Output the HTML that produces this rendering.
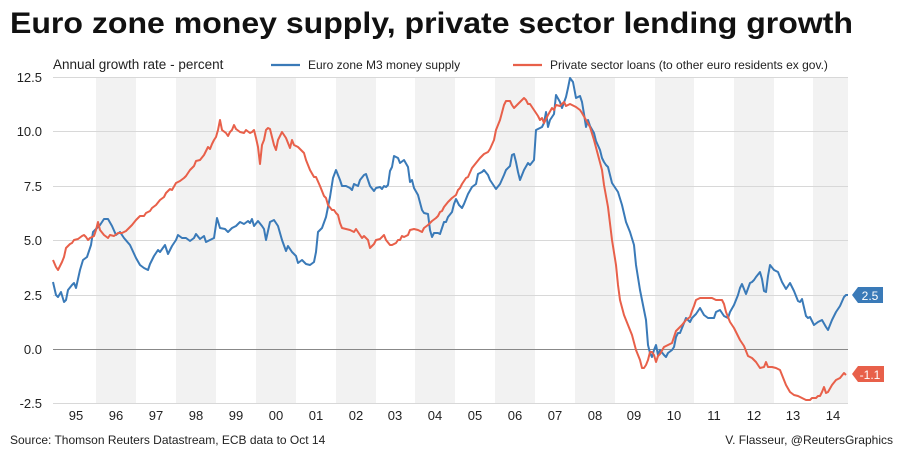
<!DOCTYPE html>
<html><head><meta charset="utf-8"><style>
body{margin:0;background:#fff}
svg{display:block;font-family:"Liberation Sans",Arial,sans-serif}
</style></head><body>
<svg width="900" height="450" viewBox="0 0 900 450">
<text x="10" y="33" font-size="30" font-weight="bold" fill="#111" textLength="843" lengthAdjust="spacingAndGlyphs">Euro zone money supply, private sector lending growth</text>
<g fill="#f2f2f2">
<rect x="96" y="77" width="40" height="326"/><rect x="176" y="77" width="40" height="326"/>
<rect x="256" y="77" width="40" height="326"/><rect x="336" y="77" width="40" height="326"/>
<rect x="415" y="77" width="40" height="326"/><rect x="495" y="77" width="40" height="326"/>
<rect x="575" y="77" width="40" height="326"/><rect x="655" y="77" width="39" height="326"/>
<rect x="734" y="77" width="40" height="326"/><rect x="813" y="77" width="35" height="326"/>
</g>
<g stroke="#d8d8d8" stroke-width="1">
<line x1="53" x2="848" y1="77.5" y2="77.5"/><line x1="53" x2="848" y1="131.5" y2="131.5"/>
<line x1="53" x2="848" y1="186.5" y2="186.5"/><line x1="53" x2="848" y1="240.5" y2="240.5"/>
<line x1="53" x2="848" y1="295.5" y2="295.5"/><line x1="53" x2="848" y1="403.5" y2="403.5"/>
</g>
<line x1="53" x2="848" y1="349.5" y2="349.5" stroke="#888"/>
<g font-size="13" fill="#222" text-anchor="end">
<text x="42" y="82">12.5</text><text x="42" y="136">10.0</text><text x="42" y="191">7.5</text>
<text x="42" y="245">5.0</text><text x="42" y="300">2.5</text><text x="42" y="354">0.0</text><text x="42" y="408">-2.5</text>
</g>
<g font-size="13" fill="#222" text-anchor="middle">
<text x="76" y="420">95</text><text x="116" y="420">96</text><text x="156" y="420">97</text><text x="196" y="420">98</text>
<text x="236" y="420">99</text><text x="276" y="420">00</text><text x="316" y="420">01</text><text x="356" y="420">02</text>
<text x="395" y="420">03</text><text x="435" y="420">04</text><text x="515" y="420" display="none"></text>
<text x="475" y="420">05</text><text x="515" y="420">06</text><text x="555" y="420">07</text><text x="595" y="420">08</text>
<text x="634" y="420">09</text><text x="674" y="420">10</text><text x="714" y="420">11</text><text x="754" y="420">12</text>
<text x="793" y="420">13</text><text x="833" y="420">14</text>
</g>
<text x="53" y="69" font-size="13.5" fill="#222">Annual growth rate - percent</text>
<line x1="271" x2="300" y1="65" y2="65" stroke="#3a7ab8" stroke-width="2.2"/>
<text x="308" y="69" font-size="12" fill="#222">Euro zone M3 money supply</text>
<line x1="513" x2="542" y1="65" y2="65" stroke="#e8604a" stroke-width="2.2"/>
<text x="550" y="69" font-size="12" fill="#222">Private sector loans (to other euro residents ex gov.)</text>
<polyline fill="none" stroke="#3a7ab8" stroke-width="2" stroke-linejoin="round" points="53,282 56,295 58,297 61,292 64,302 66,300 68,290 72,285 74,283 76,288 80,270 83,260 87,257 91,245 93,232 96,229 100,225 104,219 108,219 112,226 116,235 120,232 124,238 130,245 136,258 140,265 144,268 148,270 150,264 154,256 158,250 160,252 165,245 168,254 172,246 176,240 178,235 182,238 186,238 190,241 194,238 196,234 200,239 204,236 206,242 210,240 214,238 217,218 220,228 225,229 228,232 232,228 236,226 240,222 244,224 248,221 250,223 252,219 254,226 258,221 262,226 264,229 266,240 270,222 274,220 278,226 282,240 286,251 288,246 292,252 296,256 298,263 302,260 306,264 310,265 314,262 316,252 318,232 322,228 326,217 330,197 333,178 336,170 340,180 342,186 346,186 350,188 352,190 354,184 358,186 360,180 364,175 366,174 370,186 374,191 376,188 380,187 382,189 384,186 386,187 388,185 390,171 392,167 394,156 398,158 400,163 404,160 408,167 410,182 412,180 414,188 418,195 422,210 424,213 428,214 430,230 432,237 434,233 438,233 440,234 442,228 444,222 446,222 448,217 452,212 454,204 456,199 459,205 462,208 464,204 468,194 472,187 476,184 478,174 482,172 484,170 488,175 490,180 494,186 496,189 500,184 504,175 506,170 510,166 512,155 514,154 516,162 518,172 520,180 524,170 528,163 530,165 534,160 536,130 540,128 542,127 544,123 546,112 548,127 550,120 554,114 556,95 560,102 562,108 566,97 568,88 570,78 573,82 576,98 580,96 582,102 584,114 586,127 588,120 590,126 594,133 596,141 600,150 602,158 604,162 606,165 608,167 612,183 614,186 618,192 622,205 626,222 630,232 634,245 636,265 640,290 644,310 646,320 648,345 650,353 652,357 654,350 656,345 658,355 660,350 664,355 666,357 668,353 672,350 674,347 676,337 678,333 680,333 682,328 686,318 690,322 692,318 696,314 700,308 704,315 708,318 712,318 714,318 716,312 720,310 724,316 728,318 730,312 734,305 738,295 740,288 742,284 746,294 750,283 752,282 754,280 756,277 760,272 762,279 764,291 766,292 768,276 770,265 774,270 778,272 782,282 786,289 790,283 794,291 798,301 800,302 802,299 806,316 808,318 810,317 814,325 818,322 822,320 826,327 828,330 832,320 836,312 840,306 844,297 846,295 848,295"/>
<polyline fill="none" stroke="#e8604a" stroke-width="2" stroke-linejoin="round" points="53,260 56,267 58,270 62,262 64,257 66,248 70,244 72,243 74,240 78,239 82,236 84,235 86,237 88,240 90,238 94,236 96,230 98,222 100,230 104,235 108,238 110,235 114,236 118,233 122,233 126,231 128,229 132,225 136,220 140,216 144,216 146,213 150,211 152,208 156,205 160,200 164,197 166,193 170,189 172,190 176,183 180,181 184,178 186,176 190,170 194,166 196,161 200,160 204,155 208,147 210,149 212,144 214,140 216,137 218,130 220,120 222,130 226,133 228,136 230,132 232,130 234,125 236,129 240,132 244,133 246,130 250,133 252,132 254,130 256,138 258,147 260,164 262,145 264,140 266,130 268,128 270,129 274,145 276,150 278,140 282,132 286,138 290,148 292,140 294,145 298,147 302,151 304,153 306,160 310,170 314,177 316,177 320,186 324,196 326,198 328,205 332,210 334,210 336,213 338,215 340,223 342,228 346,229 350,230 354,232 356,229 360,235 362,238 364,236 368,240 370,248 374,244 376,240 380,239 384,235 386,240 390,245 392,245 396,243 398,240 400,240 402,236 404,237 408,235 410,230 414,229 418,230 422,232 424,228 428,225 432,221 436,218 438,216 440,212 442,211 444,207 448,202 452,198 456,195 458,190 460,188 462,184 466,178 468,177 472,168 476,163 480,158 484,154 488,152 490,149 494,140 496,130 500,120 504,105 506,101 510,101 512,105 514,108 518,104 522,100 524,98 526,100 528,104 530,104 534,110 536,113 538,116 540,120 542,118 544,123 548,115 552,108 554,110 556,105 560,106 564,102 566,106 570,104 574,106 576,107 580,110 582,113 586,120 590,127 594,140 598,155 602,170 604,185 608,207 612,240 616,265 618,285 620,300 624,315 628,325 632,335 636,350 640,360 642,368 644,368 646,365 648,360 650,352 652,352 654,355 656,362 658,356 660,354 664,347 668,345 672,343 674,337 676,331 678,329 682,325 686,320 690,317 692,311 694,306 696,300 700,298 704,298 708,298 712,298 716,300 718,300 722,300 724,304 726,312 730,322 734,328 736,332 740,340 744,346 748,356 752,358 756,362 760,368 764,367 766,362 768,367 772,367 776,368 780,370 782,375 786,385 790,392 794,395 798,396 802,398 806,400 810,400 812,398 814,398 816,398 818,396 820,396 822,392 824,387 826,393 828,392 832,385 836,380 840,378 844,373 846,375"/>
<polygon points="852,295 858,287 883,287 883,303 858,303" fill="#3a7ab8"/>
<text x="870" y="300" font-size="12" fill="#fff" text-anchor="middle">2.5</text>
<polygon points="852,374 858,366 884,366 884,382 858,382" fill="#e8604a"/>
<text x="870" y="379" font-size="12" fill="#fff" text-anchor="middle">-1.1</text>
<text x="10" y="444" font-size="12" fill="#222">Source: Thomson Reuters Datastream, ECB data to Oct 14</text>
<text x="893" y="444" font-size="12" fill="#222" text-anchor="end">V. Flasseur, @ReutersGraphics</text>
</svg>
</body></html>
